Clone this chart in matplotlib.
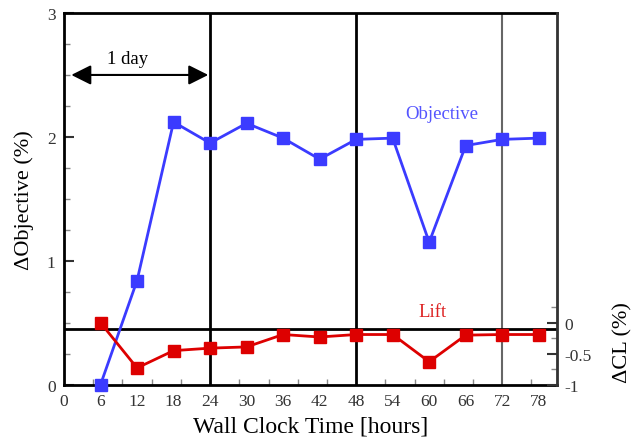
import numpy as np
import matplotlib
matplotlib.use('Agg')
import matplotlib.pyplot as plt

# --- DATA ---
hours = [6, 12, 18, 24, 30, 36, 42, 48, 54, 60, 66, 72, 78]
objective = [0.0, 0.84, 2.12, 1.95, 2.11, 1.99, 1.82, 1.98, 1.99, 1.15, 1.93, 1.98, 1.99]
lift = [0.0, -0.73, -0.45, -0.41, -0.39, -0.19, -0.23, -0.19, -0.19, -0.63, -0.20, -0.19, -0.19]
xtick_labels = [0, 6, 12, 18, 24, 30, 36, 42, 48, 54, 60, 66, 72, 78]
day_lines = [24, 48, 72]

BLUE = '#3b3bff'
RED = '#dd0000'

plt.rcParams['font.family'] = ['Liberation Serif', 'DejaVu Serif']

fig = plt.figure(figsize=(6.36, 4.39), dpi=100)
ax = fig.add_axes([64 / 636, 1 - 385.7 / 439, 493 / 636, 371.7 / 439])
ax2 = ax.twinx()

ax.set_xlim(0, 81)
ax.set_ylim(0, 3)
ax2.set_ylim(-1, 5)

# vertical day separators
ax.axvline(day_lines[0], color='black', lw=2, zorder=1)
ax.axvline(day_lines[1], color='black', lw=2, zorder=1)
ax.axvline(day_lines[2], color='#666666', lw=1.5, zorder=1)
ax.axhline(0.45, color='black', lw=2, zorder=1)

ax.plot(hours, objective, color=BLUE, lw=2, marker='s', ms=9, zorder=5, clip_on=False)
ax2.plot(hours, lift, color=RED, lw=2, marker='s', ms=9, zorder=5, clip_on=False)

# x ticks: labels every 6 h, marks every 0.2 day
ax.set_xticks(xtick_labels)
ax.set_xticklabels([str(v) for v in xtick_labels])
ax.set_xticks(np.arange(4.8, 81, 4.8), minor=True)
ax.tick_params(axis='x', which='major', length=0, pad=6, labelsize=12.5, colors='#333333')
ax.tick_params(axis='x', which='minor', direction='in', length=4, width=1, color='#888888')

ax.set_yticks([0, 1, 2, 3])
ax.set_yticks(np.arange(0, 3.01, 0.25), minor=True)
ax.tick_params(axis='y', which='major', direction='in', length=7, width=1.5, labelsize=12.5,
               colors='#333333', pad=6)
ax.tick_params(axis='y', which='minor', direction='in', length=4, width=1, color='#888888')
ax.tick_params(top=False)

ax2.set_yticks([-1, -0.5, 0])
ax2.set_yticklabels(['-1', '-0.5', '0'])
ax2.set_yticks(np.arange(-1, 0.26, 0.25), minor=True)
ax2.tick_params(axis='y', which='major', direction='in', length=7, width=1.5, labelsize=12.5,
                colors='#333333', pad=5)
ax2.tick_params(axis='y', which='minor', direction='in', length=4, width=1, color='#888888')

for sp in ['left', 'top', 'bottom']:
    ax.spines[sp].set_linewidth(2)
ax2.spines['right'].set_linewidth(2)
ax2.spines['right'].set_color('#333333')
for sp in ['left', 'top', 'bottom']:
    ax2.spines[sp].set_visible(False)

ax.set_xlabel('Wall Clock Time [hours]', fontsize=17, labelpad=5)
ax.set_ylabel('\u0394Objective (%)', fontsize=16, labelpad=9)
ax2.set_ylabel('\u0394CL (%)', fontsize=16)
ax2.yaxis.set_label_coords(1.115, 0.115)

# 1 day arrow
ax.annotate('', xy=(1.2, 2.5), xytext=(23.7, 2.5),
            arrowprops=dict(arrowstyle='<|-|>', color='black', lw=1.5, mutation_scale=30,
                            shrinkA=0, shrinkB=0))
ax.text(10.4, 2.63, '1 day', fontsize=13.5, ha='center', va='center')

ax.text(62, 2.19, 'Objective', fontsize=13.5, color='#5555ff', ha='center', va='center')
ax.text(60.6, 0.59, 'Lift', fontsize=13.5, color='#dd2222', ha='center', va='center')

fig.savefig('out.png', dpi=100)
